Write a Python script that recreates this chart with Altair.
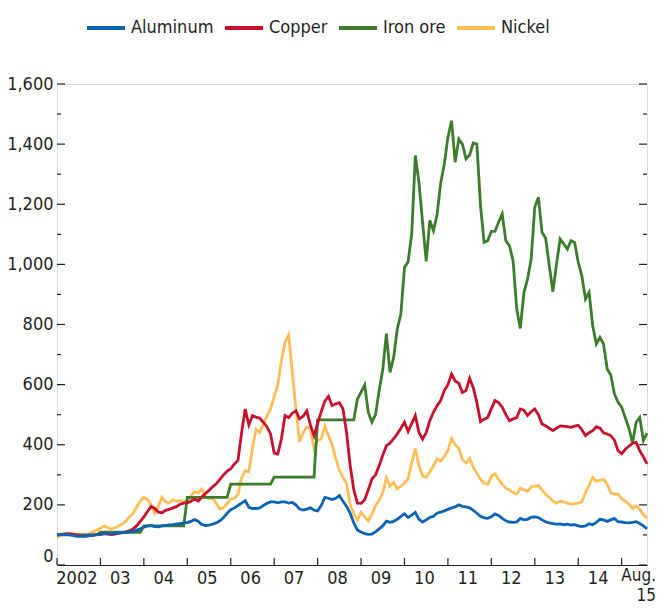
import altair as alt
import pandas as pd

FONT = "DejaVu Sans Condensed, Liberation Sans Narrow, sans-serif"
TEXT = "#231f20"

series = ["Aluminum", "Copper", "Iron ore", "Nickel"]
colors = ["#0b63b5", "#c8102e", "#3b7d2b", "#fdbe57"]

# Monthly index values, Jan 2002 - Aug 2015
aluminum = [
    100, 102, 103, 101, 99, 96, 95, 95, 96, 98, 99, 101,
    102, 104, 106, 103, 105, 107, 108, 108, 110, 112, 116, 120,
    126, 130, 132, 128, 127, 130, 132, 133, 134, 136, 138, 140,
    141, 145, 151, 146, 135, 131, 133, 136, 140, 147, 158, 172,
    184, 190, 198, 206, 214, 192, 188, 188, 190, 198, 205, 210,
    210, 207, 210, 210, 206, 208, 200, 186, 183, 186, 190, 182,
    180, 198, 225, 222, 218, 222, 231, 212, 195, 172, 140, 116,
    110, 104, 102, 103, 110, 120, 130, 146, 142, 145, 152, 162,
    170, 158, 166, 175, 152, 143, 150, 158, 162, 172, 176, 180,
    185, 190, 193, 200, 195, 193, 190, 182, 172, 162, 157, 155,
    160, 170, 165, 155, 147, 143, 142, 143, 155, 150, 152, 159,
    160, 158, 150, 144, 140, 138, 136, 137, 134, 136, 133, 134,
    130, 128, 130, 137, 134, 142, 152, 150, 145, 150, 155, 144,
    143, 141, 140, 142, 144, 138, 130, 120,
]
copper = [
    100, 101, 103, 104, 103, 101, 98, 97, 96, 98, 100, 101,
    102, 104, 103, 101, 103, 105, 108, 110, 114, 120, 130, 145,
    160, 178, 195, 188, 176, 174, 182, 185, 190, 194, 202, 206,
    207, 212, 220, 212, 226, 238, 248, 260, 270, 285, 300, 312,
    320, 336, 348, 440, 519, 466, 497, 492, 488, 475, 460, 436,
    372, 369, 420, 497, 490, 505, 513, 486, 495, 513, 466, 430,
    470, 510, 545, 561, 530, 536, 540, 520, 441, 330, 250, 206,
    205, 217, 250, 286, 300, 330, 365, 397, 405, 420, 436, 455,
    475, 444, 470, 497, 441, 419, 440, 480, 508, 530, 547, 580,
    600, 635, 612, 605, 574, 580, 621, 590, 540, 477, 485, 491,
    520, 547, 540, 525, 500, 480, 486, 490, 519, 515, 497, 510,
    519, 500, 469, 463, 455, 447, 455, 463, 462, 460, 458, 462,
    465, 450, 430, 440, 447, 460, 455, 440, 436, 430, 415, 380,
    370, 385, 395, 405, 408, 380, 360, 336,
]
iron_ore = [
    100, 100, 100, 100, 100, 100, 100, 100, 100, 100, 100, 100,
    109, 109, 109, 109, 109, 109, 109, 109, 109, 109, 109, 109,
    130, 130, 130, 130, 130, 130, 130, 130, 130, 130, 130, 130,
    225, 225, 225, 225, 225, 225, 225, 225, 225, 225, 225, 225,
    269, 269, 269, 269, 269, 269, 269, 269, 269, 269, 269, 269,
    292, 292, 292, 292, 292, 292, 292, 292, 292, 292, 292, 292,
    483, 483, 483, 483, 483, 483, 483, 483, 483, 483, 483, 552,
    575, 599, 508, 475, 500, 580, 650, 770, 641, 690, 785, 835,
    990, 1009, 1101, 1362, 1273, 1140, 1010, 1146, 1112, 1165, 1270, 1334,
    1423, 1478, 1340, 1417, 1400, 1351, 1364, 1404, 1400, 1195, 1073, 1079,
    1110, 1110, 1140, 1168, 1079, 1062, 1012, 852, 787, 907, 951, 1018,
    1190, 1223, 1107, 1087, 996, 909, 1001, 1084, 1068, 1051, 1079, 1073,
    1007, 962, 885, 907, 796, 735, 757, 735, 652, 632, 569, 541,
    525, 490, 455, 406, 475, 491, 414, 439,
]
nickel = [
    92, 98, 103, 106, 105, 103, 101, 100, 100, 105, 112, 116,
    122, 130, 125, 120, 124, 130, 136, 145, 160, 172, 192, 212,
    225, 218, 200, 172, 195, 225, 210, 206, 217, 212, 215, 212,
    214, 230, 244, 240, 253, 228, 220, 222, 205, 186, 190, 205,
    220, 222, 235, 290, 314, 310, 390, 452, 441, 469, 495, 520,
    560, 600, 680, 741, 765, 641, 519, 410, 440, 458, 455, 386,
    414, 419, 462, 430, 400, 355, 315, 292, 270, 200, 170, 150,
    175, 160, 147, 170, 197, 215, 240, 290, 262, 275, 253, 262,
    272, 286, 340, 388, 330, 295, 292, 310, 330, 353, 345, 362,
    380, 421, 400, 388, 350, 340, 355, 325, 305, 285, 272, 268,
    295, 303, 285, 269, 255, 250, 241, 236, 255, 250, 245, 260,
    262, 264, 250, 235, 225, 213, 206, 212, 210, 206, 203, 204,
    206, 210, 240, 265, 292, 278, 282, 284, 269, 240, 236, 236,
    220, 212, 203, 188, 197, 185, 168, 155,
]

year_labels = ["2002", "03", "04", "05", "06", "07", "08", "09", "10", "11", "12", "13", "14"]
end_label = ["Aug.\n15"]
y_major = [0, 200, 400, 600, 800, 1000, 1200, 1400, 1600]
y_minor = [100, 300, 500, 700, 900, 1100, 1300, 1500]

# ---- tables ----
rows = []
for name, vals in [("Nickel", nickel), ("Iron ore", iron_ore), ("Copper", copper), ("Aluminum", aluminum)]:
    for i, v in enumerate(vals):
        rows.append({"m": i, "value": v, "series": name})
df = pd.DataFrame(rows)

n_months = len(aluminum)
W, H = 590, 481
last = n_months - 1

lab_df = pd.DataFrame({"m": [12 * k + 5.5 for k in range(len(year_labels))], "label": year_labels})
end_df = pd.DataFrame({"m": [last], "label": end_label})
ytick_major = pd.DataFrame({"v": y_major})
ytick_minor = pd.DataFrame({"v": y_minor})
xtick_df = pd.DataFrame({"m": [12 * k for k in range(14)]})

xscale = alt.Scale(domain=[0, last], nice=False, zero=False)
yscale = alt.Scale(domain=[0, 1600], nice=False)

lines = alt.Chart(df).mark_line(strokeWidth=2.8).encode(
    x=alt.X("m:Q", scale=xscale,
            axis=alt.Axis(labels=False, ticks=False, grid=False, title=None,
                          domainColor=TEXT, domainWidth=1.2)),
    y=alt.Y("value:Q", scale=yscale,
            axis=alt.Axis(values=y_major, labelExpr="format(datum.value, ',.0f')",
                          domain=False, ticks=False, grid=False,
                          title=None, labelPadding=4, labelFontSize=18, labelFont=FONT,
                          labelColor=TEXT,
                          labelOffset={"condition": {"test": "datum.value === 0", "value": -9}, "value": 0})),
    color=alt.Color("series:N",
                    scale=alt.Scale(domain=series, range=colors),
                    legend=alt.Legend(orient="none", legendX=28, legendY=-77, direction="horizontal",
                                      symbolType="stroke", symbolSize=1444, symbolStrokeWidth=4,
                                      labelFontSize=18, labelFont=FONT, labelColor=TEXT,
                                      title=None, columnPadding=3, labelOffset=4)),
    detail="series:N",
)

left_major = alt.Chart(ytick_major).mark_rule(color=TEXT, strokeWidth=1.2).encode(
    y=alt.Y("v:Q", scale=yscale), x=alt.value(0), x2=alt.value(8))
left_minor = alt.Chart(ytick_minor).mark_rule(color=TEXT, strokeWidth=1.2).encode(
    y=alt.Y("v:Q", scale=yscale), x=alt.value(0), x2=alt.value(4))
right_major = alt.Chart(ytick_major).mark_rule(color=TEXT, strokeWidth=1.2).encode(
    y=alt.Y("v:Q", scale=yscale), x=alt.value(W - 8), x2=alt.value(W))
right_minor = alt.Chart(ytick_minor).mark_rule(color=TEXT, strokeWidth=1.2).encode(
    y=alt.Y("v:Q", scale=yscale), x=alt.value(W - 4), x2=alt.value(W))
xticks = alt.Chart(xtick_df).mark_rule(color=TEXT, strokeWidth=1.2).encode(
    x=alt.X("m:Q", scale=xscale), y=alt.value(H - 7), y2=alt.value(H))
xlabels = alt.Chart(lab_df).mark_text(baseline="top", align="center", fontSize=18, font=FONT,
                                      color=TEXT).encode(
    x=alt.X("m:Q", scale=xscale), y=alt.value(H + 5), text="label:N")
endlabel = alt.Chart(end_df).mark_text(baseline="top", align="right", dx=9, fontSize=17, font=FONT,
                                       color=TEXT, lineBreak="\n", lineHeight=20).encode(
    x=alt.X("m:Q", scale=xscale), y=alt.value(H + 3), text="label:N")

chart = alt.layer(left_major, left_minor, right_major, right_minor, xticks, lines, xlabels, endlabel).properties(
    width=W, height=H,
    autosize=alt.AutoSizeParams(type="none"),
    padding={"left": 49, "top": 76, "right": 11, "bottom": 43},
).configure_view(stroke=None).configure(background="white")

chart.save("out.html", embed_options={"renderer": "svg", "actions": False})
